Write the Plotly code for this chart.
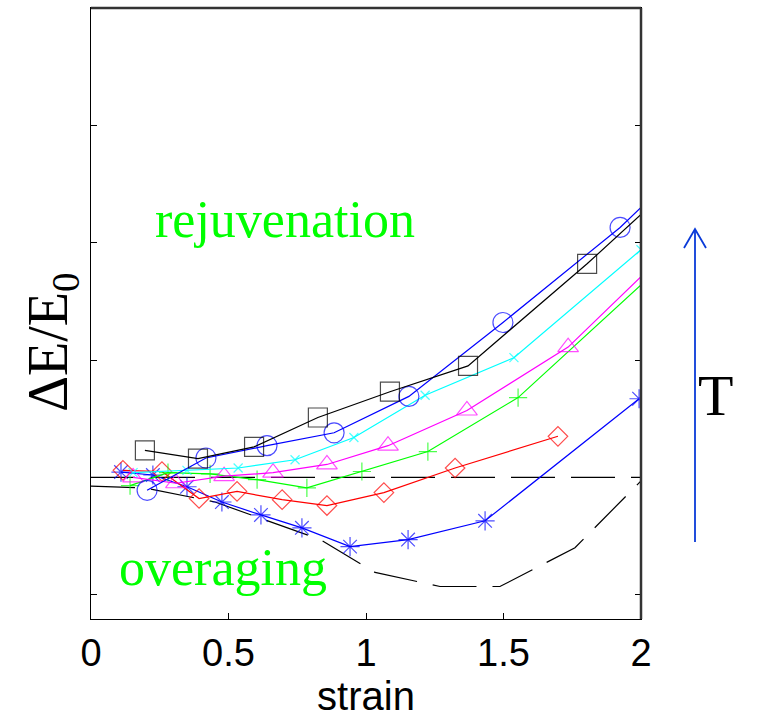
import plotly.graph_objects as go

# ---- data (x = strain, y = ΔE/E0 in units of y-tick spacing) ----
sq_x = [0.196, 0.389, 0.593, 0.825, 1.087, 1.371, 1.804, 2.0]
sq_y = [0.23, 0.16, 0.26, 0.51, 0.73, 0.95, 1.82, 2.24]

ci_x = [0.204, 0.418, 0.640, 0.884, 1.156, 1.498, 1.924, 2.0]
ci_y = [-0.11, 0.165, 0.27, 0.38, 0.69, 1.32, 2.13, 2.30]

cx_x = [0.153, 0.349, 0.535, 0.742, 0.956, 1.215, 1.538, 2.0]
cx_y = [0.04, 0.06, 0.08, 0.15, 0.34, 0.70, 1.02, 1.94]

tr_x = [0.153, 0.309, 0.484, 0.662, 0.858, 1.080, 1.367, 1.735, 2.0]
tr_y = [0.00, -0.05, 0.01, 0.04, 0.11, 0.27, 0.57, 1.11, 1.71]

pl_x = [0.142, 0.280, 0.433, 0.604, 0.785, 0.985, 1.225, 1.553, 2.0]
pl_y = [-0.07, 0.04, 0.03, -0.02, -0.09, 0.05, 0.22, 0.68, 1.64]

di_x = [0.116, 0.258, 0.393, 0.531, 0.695, 0.858, 1.065, 1.324, 1.698]
di_y = [0.06, 0.05, -0.18, -0.12, -0.19, -0.24, -0.13, 0.08, 0.35]

as_x = [0.109, 0.225, 0.349, 0.476, 0.618, 0.767, 0.942, 1.153, 1.433, 1.993]
as_y = [0.045, 0.02, -0.08, -0.21, -0.32, -0.43, -0.59, -0.53, -0.37, 0.67]

da_x = [0.0, 0.196, 0.451, 0.833, 1.033, 1.269, 1.487, 1.760, 2.0]
da_y = [-0.075, -0.09, -0.21, -0.53, -0.81, -0.93, -0.93, -0.60, -0.03]

zero_x = [0.0, 2.0]
zero_y = [0.0, 0.0]

y_ticks = [-1, 0, 1, 2, 3]
x_ticks = [0, 0.5, 1, 1.5, 2]
x_labels = ["0", "0.5", "1", "1.5", "2"]

W, H = 759, 719
L, R, T, B = 91, 118, 8, 100
pw, ph = W - L - R, H - T - B


def px_to_paper(px, py):
    return (px - L) / pw, (H - B - py) / ph


fig = go.Figure()


def series(x, y, color, symbol, size, last_marker=True):
    sizes = [size] * len(x)
    if not last_marker:
        sizes[-1] = 0
    fig.add_trace(go.Scatter(
        x=x, y=y, mode="lines+markers",
        line=dict(color=color, width=1.2),
        marker=dict(symbol=symbol, size=sizes, color=color,
                    line=dict(color=color, width=1.2)),
        showlegend=False, hoverinfo="skip"))


# reference dashed lines
fig.add_trace(go.Scatter(x=zero_x, y=zero_y, mode="lines",
                         line=dict(color="black", width=1.2, dash="44px,16px"),
                         showlegend=False, hoverinfo="skip"))
fig.add_trace(go.Scatter(x=da_x, y=da_y, mode="lines",
                         line=dict(color="black", width=1.2, dash="44px,16px"),
                         showlegend=False, hoverinfo="skip"))

series(as_x, as_y, "#0000ff", "asterisk-open", 16)
series(di_x, di_y, "#ff0000", "diamond-open", 15)
series(pl_x, pl_y, "#00ff00", "cross-thin-open", 13, last_marker=False)
series(tr_x, tr_y, "#ff00ff", "triangle-up-open", 18, last_marker=False)
series(cx_x, cx_y, "#00ffff", "x-thin-open", 9)
series(ci_x, ci_y, "#0000ff", "circle-open", 20, last_marker=False)
series(sq_x, sq_y, "black", "square-open", 19, last_marker=False)

fig.update_layout(
    width=W, height=H,
    margin=dict(l=L, r=R, t=T, b=B),
    paper_bgcolor="white", plot_bgcolor="white",
    xaxis=dict(range=[0, 2], tickvals=x_ticks, ticktext=x_labels,
               ticks="inside", ticklen=6, tickcolor="black",
               showline=True, linecolor="black", linewidth=1, mirror=True,
               showgrid=False, zeroline=False,
               tickfont=dict(family="Liberation Sans, Arial", size=38, color="black"),
               title=dict(text="strain", font=dict(family="Liberation Sans, Arial",
                                                  size=40, color="black"),
                          standoff=6)),
    yaxis=dict(range=[-1.207, 4.0], tickvals=y_ticks, showticklabels=False,
               ticks="inside", ticklen=6, tickcolor="black",
               showline=True, linecolor="black", linewidth=1, mirror="ticks",
               showgrid=False, zeroline=False),
)

# thicker top / right borders
fig.add_shape(type="line", xref="paper", yref="paper", x0=0, x1=1, y0=1, y1=1,
              line=dict(color="#333", width=2.5))
fig.add_shape(type="line", xref="paper", yref="paper", x0=1, x1=1, y0=0, y1=1,
              line=dict(color="#333", width=2.5))

serif = "Liberation Serif, Times New Roman, serif"
fig.add_annotation(x=0.705, y=2.2, xref="x", yref="y", text="rejuvenation",
                   showarrow=False, font=dict(family=serif, size=52, color="#00ff00"))
fig.add_annotation(x=0.48, y=-0.77, xref="x", yref="y", text="overaging",
                   showarrow=False, font=dict(family=serif, size=52, color="#00ff00"))

tx, ty = px_to_paper(735, 395)
fig.add_annotation(x=tx, y=ty, xref="paper", yref="paper", text="T",
                   showarrow=False, font=dict(family=serif, size=58, color="black"))

lx, ly = px_to_paper(52, 342)
fig.add_annotation(text="ΔE/E<sub>0</sub>", textangle=-90, showarrow=False,
                   xref="paper", yref="paper", x=lx, y=ly,
                   xanchor="center", yanchor="middle",
                   font=dict(family=serif, size=56, color="black"))

# arrow for T (open V head)
arrow_col = "#0a3ad8"
x0, y0 = px_to_paper(695, 542)
x1, y1 = px_to_paper(695, 229)
hlx, hly = px_to_paper(684, 248)
hrx, hry = px_to_paper(706, 248)
fig.add_shape(type="line", xref="paper", yref="paper", x0=x0, y0=y0, x1=x1, y1=y1,
              line=dict(color=arrow_col, width=1.8))
fig.add_shape(type="path", xref="paper", yref="paper",
              path=f"M {hlx},{hly} L {x1},{y1} L {hrx},{hry}",
              line=dict(color=arrow_col, width=1.8))

fig.write_html("out.html")
